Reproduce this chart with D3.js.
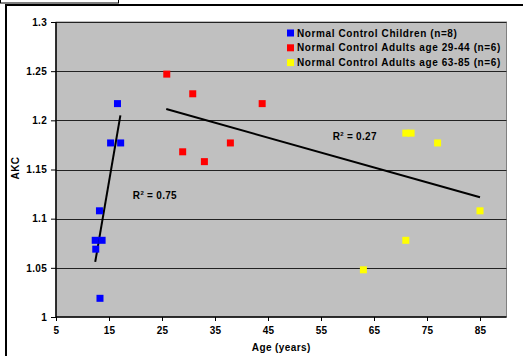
<!DOCTYPE html>
<html>
<head>
<meta charset="utf-8">
<script src="https://cdn.jsdelivr.net/npm/d3@7"></script>
<style>
  html, body { margin: 0; padding: 0; background: #fff; }
  svg { display: block; }
  text { font-family: "Liberation Sans", Arial, sans-serif; font-weight: bold; fill: #000; }
</style>
</head>
<body>
<svg id="chart" width="523" height="356"></svg>
<script>
// ---- data ----
const seriesNames = [
  "Normal Control Children (n=8)",
  "Normal Control Adults age 29-44 (n=6)",
  "Normal Control Adults age 63-85 (n=6)"
];
const seriesColors = ["#0000ff", "#ff0000", "#ffff00"];
const childrenAge = [16.6, 15.3, 17.2, 13.2, 12.4, 13.7, 12.5, 13.3];
const childrenAKC = [1.217, 1.177, 1.177, 1.108, 1.078, 1.078, 1.069, 1.019];
const adultsYoungAge = [25.9, 30.8, 28.9, 33.0, 37.9, 43.9];
const adultsYoungAKC = [1.247, 1.227, 1.168, 1.158, 1.177, 1.217];
const adultsOldAge = [71.0, 72.0, 77.0, 85.0, 71.0, 63.0];
const adultsOldAKC = [1.187, 1.187, 1.177, 1.108, 1.078, 1.048];
const childTrendX = [12.4, 17.15];
const childTrendY = [1.056, 1.205];
const adultTrendX = [25.8, 85.0];
const adultTrendY = [1.2115, 1.1217];
const r2Labels = [{ text: "0.75", x: 19.5, y: 1.12 }, { text: "0.27", x: 57.2, y: 1.180 }];
const xTicks = [5, 15, 25, 35, 45, 55, 65, 75, 85];
const yTicks = [1, 1.05, 1.1, 1.15, 1.2, 1.25, 1.3];

// ---- drawing ----
const svg = d3.select("#chart");
const L = 56, R = 506.5, T = 22, B = 317;
const x = d3.scaleLinear().domain([5, 90]).range([L, R]);
const y = d3.scaleLinear().domain([1, 1.3]).range([B, T]);

// outer frames
svg.append("rect").attr("x", 0.5).attr("y", -5).attr("width", 118).attr("height", 8)
  .attr("fill", "none").attr("stroke", "#000").attr("stroke-width", 1);
svg.append("rect").attr("x", 6).attr("y", 5).attr("width", 530).attr("height", 370)
  .attr("fill", "#fff").attr("stroke", "#000").attr("stroke-width", 2);

// plot area
svg.append("rect").attr("x", L).attr("y", T).attr("width", R - L).attr("height", B - T)
  .attr("fill", "#c0c0c0").attr("stroke", "#808080").attr("stroke-width", 1);

// gridlines
svg.append("g").selectAll("line").data(yTicks.filter(d => d > 1)).join("line")
  .attr("x1", L).attr("x2", R).attr("y1", d => Math.round(y(d)) + 0.5).attr("y2", d => Math.round(y(d)) + 0.5)
  .attr("stroke", "#222").attr("stroke-width", 1);

// axes
const yAxis = d3.axisLeft(y).tickValues(yTicks).tickFormat(d => String(+d.toFixed(2))).tickSize(5).tickPadding(4);
const gy = svg.append("g").attr("transform", `translate(${L},0)`).call(yAxis);
const xAxis = d3.axisBottom(x).tickValues(xTicks).tickFormat(d3.format("d")).tickSize(4).tickPadding(6);
const gx = svg.append("g").attr("transform", `translate(0,${B})`).call(xAxis);
[gy, gx].forEach(g => {
  g.select(".domain").attr("stroke", "#000").attr("stroke-width", 1.5);
  g.selectAll(".tick line").attr("stroke", "#000");
  g.selectAll("text").attr("font-size", 10).attr("font-family", "Liberation Sans, Arial, sans-serif")
    .attr("font-weight", "bold").attr("fill", "#000").attr("letter-spacing", 0.3);
});
gx.select(".domain").attr("d", `M${L},0H${R}`);
gy.select(".domain").attr("d", `M0,${B}V${T}`);

// trend lines
const line = d3.line().x(d => x(d[0])).y(d => y(d[1]));
svg.append("path").datum(childTrendX.map((v, i) => [v, childTrendY[i]]))
  .attr("d", line).attr("stroke", "#000").attr("stroke-width", 2).attr("fill", "none");
svg.append("path").datum(adultTrendX.map((v, i) => [v, adultTrendY[i]]))
  .attr("d", line).attr("stroke", "#000").attr("stroke-width", 2).attr("fill", "none");

// points
const allSeries = [
  childrenAge.map((v, i) => [v, childrenAKC[i]]),
  adultsYoungAge.map((v, i) => [v, adultsYoungAKC[i]]),
  adultsOldAge.map((v, i) => [v, adultsOldAKC[i]])
];
const ms = 7;
allSeries.forEach((pts, si) => {
  svg.append("g").selectAll("rect").data(pts).join("rect")
    .attr("x", d => x(d[0]) - ms / 2).attr("y", d => y(d[1]) - ms / 2)
    .attr("width", ms).attr("height", ms).attr("fill", seriesColors[si]);
});

// R^2 labels
r2Labels.forEach(r => {
  const t = svg.append("text").attr("x", x(r.x)).attr("y", y(r.y)).attr("font-size", 10).attr("letter-spacing", 0.3);
  t.append("tspan").text("R");
  t.append("tspan").attr("font-size", 6).attr("dy", -4).text("2");
  t.append("tspan").attr("dy", 4).text(" = " + r.text);
});

// legend
const lg = svg.append("g");
seriesNames.forEach((n, i) => {
  const cy = 33 + i * 14.8;
  lg.append("rect").attr("x", 287).attr("y", cy - 3.5).attr("width", 7).attr("height", 7).attr("fill", seriesColors[i]);
  lg.append("text").attr("x", 297).attr("y", cy + 3.6).attr("font-size", 10)
    .attr("letter-spacing", 0.6).text(n);
});

// axis titles
svg.append("text").attr("transform", `translate(19,168) rotate(-90)`).attr("text-anchor", "middle")
  .attr("font-size", 10).attr("letter-spacing", 0.5).text("AKC");
svg.append("text").attr("x", (L + R) / 2).attr("y", 351).attr("text-anchor", "middle")
  .attr("font-size", 10).attr("letter-spacing", 0.4).text("Age (years)");
</script>
</body>
</html>
